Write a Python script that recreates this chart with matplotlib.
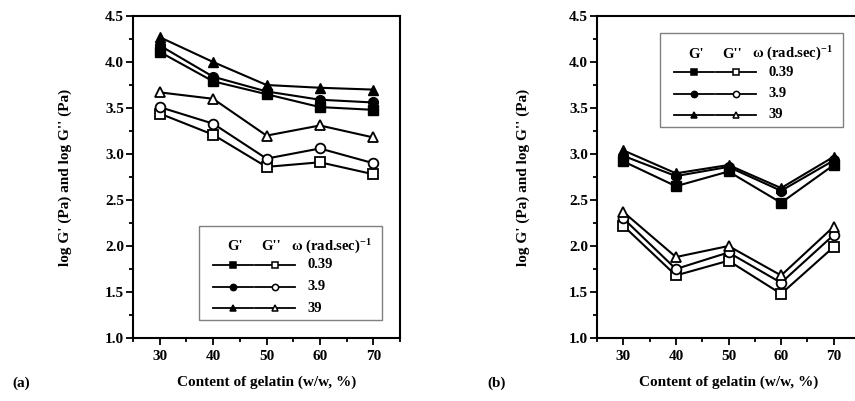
import numpy as np
import matplotlib
matplotlib.use("Agg")
import matplotlib.pyplot as plt
from matplotlib.ticker import MultipleLocator
from matplotlib.patches import Rectangle
from matplotlib.lines import Line2D

plt.rcParams['font.family'] = ['Liberation Serif', 'DejaVu Serif']
plt.rcParams['font.weight'] = 'bold'
plt.rcParams['mathtext.fontset'] = 'custom'
plt.rcParams['mathtext.rm'] = 'Liberation Serif:bold'
plt.rcParams['mathtext.it'] = 'Liberation Serif:bold'
plt.rcParams['mathtext.bf'] = 'Liberation Serif:bold'

# gelatin content (w/w, %)
gelatin = [30, 40, 50, 60, 70]
freqs = ['0.39', '3.9', '39']

# panel (a): log G' and log G'' at each frequency
a_gp = {
    '0.39': [4.11, 3.79, 3.65, 3.51, 3.48],
    '3.9':  [4.18, 3.84, 3.68, 3.59, 3.56],
    '39':   [4.27, 4.00, 3.75, 3.72, 3.70],
}
a_gpp = {
    '0.39': [3.44, 3.21, 2.86, 2.91, 2.78],
    '3.9':  [3.51, 3.33, 2.95, 3.06, 2.90],
    '39':   [3.67, 3.60, 3.20, 3.31, 3.18],
}

# panel (b)
b_gp = {
    '0.39': [2.92, 2.65, 2.81, 2.47, 2.88],
    '3.9':  [2.98, 2.76, 2.86, 2.60, 2.93],
    '39':   [3.04, 2.79, 2.88, 2.63, 2.97],
}
b_gpp = {
    '0.39': [2.22, 1.68, 1.84, 1.48, 1.99],
    '3.9':  [2.30, 1.75, 1.93, 1.60, 2.12],
    '39':   [2.37, 1.88, 2.00, 1.68, 2.21],
}

markers = {'0.39': 's', '3.9': 'o', '39': '^'}

W, H = 855, 401
fig = plt.figure(figsize=(W / 100, H / 100), dpi=100)
ax_a = fig.add_axes([133 / W, 63 / H, 267 / W, 322 / H])
ax_b = fig.add_axes([597 / W, 63 / H, 263 / W, 322 / H])


def draw_panel(ax, gp, gpp, ylab_x):
    for f in freqs:
        ax.plot(gelatin, gp[f], color='black', lw=1.5, marker=markers[f],
                ms=7, mfc='black', mec='black', zorder=3)
        ax.plot(gelatin, gpp[f], color='black', lw=1.5, marker=markers[f],
                ms=7, mfc='white', mec='black', mew=1.3, zorder=3)
    ax.set_xlim(25, 75)
    ax.set_ylim(1.0, 4.5)
    ax.xaxis.set_major_locator(MultipleLocator(10))
    ax.xaxis.set_minor_locator(MultipleLocator(5))
    ax.yaxis.set_major_locator(MultipleLocator(0.5))
    ax.yaxis.set_minor_locator(MultipleLocator(0.25))
    ax.yaxis.set_major_formatter(plt.FormatStrFormatter('%.1f'))
    ax.tick_params(which='both', direction='out', width=1.3, labelsize=11)
    ax.tick_params(which='major', length=5)
    ax.tick_params(which='minor', length=3)
    ax.tick_params(axis='x', pad=4)
    ax.tick_params(axis='y', pad=1.5)
    for s in ax.spines.values():
        s.set_linewidth(1.5)
    ax.set_xlabel('Content of gelatin (w/w, %)', fontsize=11, fontweight='bold')
    ax.set_ylabel("log G' (Pa) and log G'' (Pa)", fontsize=11, fontweight='bold')
    ax.xaxis.set_label_coords(0.5, -0.118)
    ax.yaxis.set_label_coords(ylab_x, 0.5)


def draw_legend(ax, left_px, top_px):
    # box and contents laid out in pixel offsets from the box corner
    pos = ax.get_position()
    aw, ah = pos.width * W, pos.height * H

    def P(dx, dy):
        return ((left_px + dx) / aw, (top_px - dy) / ah)

    x0, y0 = P(0, 94)
    ax.add_patch(Rectangle((x0, y0), 183 / aw, 94 / ah, transform=ax.transAxes,
                           fill=False, edgecolor='#808080', lw=1.0, zorder=5))
    hy = 21
    ax.text(*P(36, hy), "G'", transform=ax.transAxes, ha='center', va='center',
            fontsize=10.5)
    ax.text(*P(72, hy), "G''", transform=ax.transAxes, ha='center', va='center',
            fontsize=10.5)
    ax.text(*P(92, hy), "ω (rad.sec)$^{-1}$", transform=ax.transAxes,
            ha='left', va='center', fontsize=10.5)
    for i, f in enumerate(freqs):
        ry = 39 + 21.5 * i
        for cx, fc in ((34, 'black'), (76, 'white')):
            xa, ya = P(cx - 20, ry)
            xb, _ = P(cx + 20, ry)
            ax.add_line(Line2D([xa, xb], [ya, ya], transform=ax.transAxes,
                               color='black', lw=1.3, zorder=6))
            xm, _ = P(cx, ry)
            ax.add_line(Line2D([xm], [ya], transform=ax.transAxes,
                               marker=markers[f], ms=4.5, mfc=fc, mec='black',
                               mew=1.1, ls='none', zorder=7))
        ax.text(*P(108, ry), f, transform=ax.transAxes, ha='left', va='center',
                fontsize=10.5)


draw_panel(ax_a, a_gp, a_gpp, -0.228)
draw_panel(ax_b, b_gp, b_gpp, -0.255)

# legend positions: left/top edge of box in pixels relative to axes origin
draw_legend(ax_a, 199 - 133, 338 - 226)
draw_legend(ax_b, 660 - 597, 338 - 33)

fig.text(12 / W, (H - 383) / H, '(a)', fontsize=11, fontweight='bold',
         va='center', ha='left')
fig.text(487 / W, (H - 383) / H, '(b)', fontsize=11, fontweight='bold',
         va='center', ha='left')

fig.savefig('out.png', dpi=100)
